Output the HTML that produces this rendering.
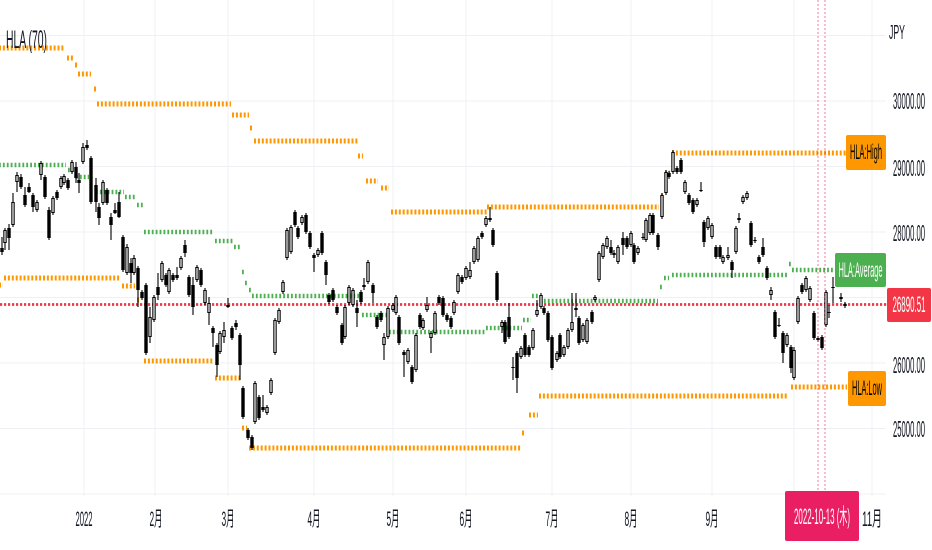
<!DOCTYPE html>
<html><head><meta charset="utf-8"><style>
html,body{margin:0;padding:0;background:#fff;width:932px;height:550px;overflow:hidden}
svg{display:block}
text{font-family:"Liberation Sans","Noto Sans CJK JP",sans-serif}
</style></head><body>
<svg width="932" height="550" viewBox="0 0 932 550" xmlns="http://www.w3.org/2000/svg">
<rect width="932" height="550" fill="#fff"/>
<g stroke="#eff0f3" stroke-width="1">
<path d="M0 35.5H886M0 101H886M0 166.5H886M0 232H886M0 297.5H886M0 363H886M0 428.5H886M0 494H886"/>
<path d="M84 0V496M155 0V496M228 0V496M314 0V496M393 0V496M466 0V496M552 0V496M631 0V496M712 0V496M794 0V496M872 0V496"/>
</g>
<g fill="none" stroke="#ff9800" stroke-width="5" stroke-dasharray="2 1.9">
<path d="M-1 48H65M67 58H73M75 65H77M78 74H91M94 89H96M97 104H231M232 115H249M250 128H252M254 141H358M358 156H363M366 181H378M381 188H389M391 212H487M487 207H659M661 196H663M665 173H670M672 153H846"/>
<path d="M-1 285H3M4 278H121M122 286H135M137 300H141M144 361H214M215 378H241M242 428H247M249 448H521M522 433H526M529 415H538M539 396H788M791 387H847"/>
</g>
<path fill="none" stroke="#4caf50" stroke-width="4.5" stroke-dasharray="1.8 2.1" d="M-1 165H66M68 170H73M76 177H89M96 192H124M125 197H136M137 205H144M144 232H214M215 241H233M234 247H241M242 272H244M245 283H247M249 290H251M252 296H361M362 315H388M389 332H486M486 328H522M523 320H531M532 296H538M540 301H658M660 287H662M664 278H669M672 275H788M789 264H791M792 270H834"/>
<path fill="none" stroke="#f23645" stroke-width="2.7" stroke-dasharray="2.2 1.8" d="M0 304.5H887"/>
<g fill="none" stroke="#000">
<path stroke-width="1.1" d="M2 237V255M5 228V250M9 224V250M13 193V227M17 172V192M21 174V189M25 187V207M29 183V193M33 193V212M37 200V212M41 161V180M45 175V199M49 207V240M53 196V215M57 190V200M61 176V189M64 174V185M68 178V190M72 160V174M76 162V183M79 173V193M83 143V164M87 140V150M91 156V204M96 178V212M99 203V225M103 180V205M107 188V205M111 213V240M115 203V214M119 192V218M123 235V272M127 244V275M131 258V283M134 255V275M138 266V307M142 290V300M146 283V355M150 307V343M154 295V322M158 273V300M162 261V282M166 273V287M169 268V294M173 273V282M177 267V280M181 256V270M185 240V257M189 275V297M193 277V315M197 265V282M201 268V287M205 288V305M209 297V325M213 326V347M217 343V377M220 331V354M224 322V343M228 298V308M232 326V340M236 320V330M240 333V380M243 386V419M248 428V440M252 435V450M255 381V424M259 395V420M263 395V412M267 405V415M271 378V395M275 318V355M279 308V324M283 280V294M287 228V260M291 225V254M295 210V227M298 226V239M302 215V225M306 213V234M310 231V249M314 253V272M318 248V257M322 231V255M326 260V285M329 293V304M333 288V302M337 305V315M342 323V345M345 305V339M349 285V305M353 288V307M357 300V327M361 290V304M364 278V290M368 260V284M373 283V303M377 315V329M381 311V322M384 333V360M388 306V339M393 303V312M396 295V315M399 315V345M404 350V377M408 348V364M412 365V384M416 333V372M420 313V329M423 318V330M427 297V312M431 331V353M435 311V335M439 295V305M443 296V317M447 313V322M451 316V329M454 300V315M458 273V294M462 275V284M466 266V280M470 262V279M474 246V264M478 236V262M482 231V239M486 216V227M490 207V222M493 228V247M497 271V302M502 320V333M505 320V344M509 303V339M513 357V380M517 351V393M521 346V359M525 333V357M529 345V357M533 328V350M537 300V317M541 293V309M544 306V315M548 311V342M552 335V370M557 351V362M560 333V359M564 345V357M568 328V349M572 293V332M576 293V317M579 316V345M583 323V342M587 318V344M592 310V324M595 295V302M599 251V282M603 243V259M607 236V249M611 240V255M614 250V258M618 245V264M623 232V255M627 236V249M631 231V247M634 243V264M638 246V255M643 233V240M646 218V242M650 213V235M653 213V235M658 233V250M662 193V219M666 170V195M669 171V179M673 150V174M677 166V174M681 158V174M685 180V194M689 193V205M693 198V214M697 198V207M701 182V192M704 220V247M708 216V230M712 223V239M716 245V259M720 245V259M723 255V264M728 247V260M732 260V278M736 226V254M739 213V223M743 195V204M747 191V200M751 221V247M755 237V243M759 255V264M763 238V257M767 266V280M771 287V300M775 310V339M779 318V327M783 331V363M787 333V347M791 345V373M794 347V380M798 296V324M802 283V294M806 276V292M810 286V302M814 311V340M818 336V342M822 335V350M826 290V327M829 305V318M833 277V303M841 293V302M845 302V308"/>
<path stroke-width="3.4" d="M2 248V252M5 230V243M9 228V238M13 202V225M17 175V182M21 177V187M25 195V205M29 187V192M33 195V207M37 202V210M41 163V175M45 177V197M49 210V238M53 198V213M57 192V198M61 178V187M64 176V183M68 180V188M72 162V172M76 167V178M79 180V183M83 147V162M87 145V148M91 158V202M96 185V202M99 207V218M103 182V203M107 190V203M111 217V225M115 210V213M119 202V217M123 237V270M127 247V273M131 263V273M134 258V273M138 268V290M142 292V298M146 285V353M150 317V337M154 297V320M158 287V295M162 263V280M166 275V285M169 270V292M173 275V280M177 275V278M181 258V268M185 245V253M189 277V295M193 285V307M197 267V280M201 270V285M205 290V303M209 303V313M213 328V333M217 345V365M220 333V352M224 330V337M228 305V307M232 328V338M236 323V327M240 335V365M243 388V417M248 430V438M252 437V448M255 383V422M259 397V418M263 407V410M267 407V413M271 380V393M275 320V353M279 310V322M283 282V292M287 230V258M291 227V252M295 212V225M298 228V237M302 217V223M306 215V232M310 233V247M314 255V258M318 250V255M322 233V253M326 262V275M329 295V302M333 290V300M337 307V313M342 325V343M345 307V337M349 287V303M353 290V305M357 308V313M361 292V302M364 285V287M368 262V282M373 285V293M377 317V327M381 313V320M384 337V345M388 308V337M393 305V310M396 297V313M399 317V343M404 352V355M408 350V362M412 367V382M416 335V370M420 315V327M423 320V328M427 305V310M431 333V338M435 313V333M439 297V303M443 298V315M447 315V320M451 318V327M454 302V313M458 275V292M462 277V282M466 268V278M470 270V277M474 248V262M478 238V260M482 233V237M486 218V225M490 218V220M493 230V245M497 273V300M502 322V327M505 322V342M509 317V337M513 367V368M517 353V378M521 348V357M525 335V355M529 347V355M533 330V348M537 310V315M541 295V307M544 308V313M548 313V340M552 337V368M557 353V360M560 335V357M564 347V355M568 330V347M572 322V330M576 308V310M579 318V343M583 325V340M587 320V342M592 312V322M595 297V300M599 253V280M603 245V257M607 238V247M611 247V253M614 253V255M618 247V262M623 238V245M627 238V247M631 233V245M634 245V262M638 248V253M643 237V238M646 220V240M650 215V233M653 215V233M658 235V247M662 195V217M666 172V193M669 173V177M673 152V172M677 168V172M681 160V172M685 182V192M689 195V203M693 200V212M697 200V205M701 190V191M704 222V242M708 218V228M712 225V237M716 247V257M720 247V257M723 257V262M728 255V258M732 262V270M736 228V252M739 218V220M743 197V202M747 193V198M751 223V245M755 240V241M759 257V262M763 247V255M767 268V278M771 290V295M775 312V337M779 325V326M783 333V353M787 335V345M791 347V368M794 350V378M798 298V322M802 285V292M806 278V290M810 288V300M814 313V338M818 338V340M822 337V348M826 292V325M829 312V313M833 287V288M841 297V299M845 304V306"/>
</g>
<path fill="none" stroke="#fff" stroke-width="1.2" d="M5 231V242M13 203V224M17 176V181M37 203V209M41 164V174M53 199V212M61 179V186M64 177V182M72 163V171M83 148V161M103 183V202M127 248V272M134 259V272M150 318V336M154 298V319M162 264V279M169 271V291M181 259V267M197 268V279M205 291V302M209 304V312M220 334V351M224 331V336M255 384V421M267 408V412M271 381V392M275 321V352M279 311V321M283 283V291M287 231V257M291 228V251M302 218V222M318 251V254M345 308V336M349 288V302M353 291V304M368 263V281M384 338V344M388 309V336M393 306V309M396 298V312M408 351V361M416 336V369M423 321V327M427 306V309M431 334V337M435 314V332M454 303V312M458 276V291M466 269V277M470 271V276M474 249V261M478 239V259M486 219V224M502 323V326M521 349V356M533 331V347M537 311V314M541 296V306M557 354V359M564 348V354M568 331V346M572 323V329M583 326V339M587 321V341M595 298V299M599 254V279M603 246V256M607 239V246M618 248V261M631 234V244M638 249V252M646 221V239M650 216V232M662 196V216M666 173V192M673 153V171M685 183V191M697 201V204M708 219V227M712 226V236M723 258V261M728 256V257M736 229V251M743 198V201M747 194V197M771 291V294M787 336V344M794 351V377M798 299V321M806 279V289M810 289V299M826 293V324"/>
<g fill="none" stroke="#e91e63" stroke-opacity="0.6" stroke-width="1" stroke-dasharray="2 2">
<path d="M818 0V491M825 0V491"/>
</g>
<text x="6" y="48" font-size="25" fill="#131722" textLength="41" lengthAdjust="spacingAndGlyphs">HLA (70)</text>
<g font-size="23" fill="#131722">
<text x="889" y="39" font-size="20" textLength="16" lengthAdjust="spacingAndGlyphs">JPY</text>
<text x="893" y="109" textLength="32" lengthAdjust="spacingAndGlyphs">30000.00</text>
<text x="893" y="176" textLength="32" lengthAdjust="spacingAndGlyphs">29000.00</text>
<text x="893" y="241" textLength="32" lengthAdjust="spacingAndGlyphs">28000.00</text>
<text x="893" y="373" textLength="32" lengthAdjust="spacingAndGlyphs">26000.00</text>
<text x="893" y="437" textLength="32" lengthAdjust="spacingAndGlyphs">25000.00</text>
</g>
<g font-size="21" fill="#131722" text-anchor="middle">
<text x="84" y="526" textLength="17" lengthAdjust="spacingAndGlyphs">2022</text>
<text x="156" y="526" textLength="13" lengthAdjust="spacingAndGlyphs">2月</text>
<text x="228" y="526" textLength="13" lengthAdjust="spacingAndGlyphs">3月</text>
<text x="314" y="526" textLength="13" lengthAdjust="spacingAndGlyphs">4月</text>
<text x="393" y="526" textLength="13" lengthAdjust="spacingAndGlyphs">5月</text>
<text x="466" y="526" textLength="13" lengthAdjust="spacingAndGlyphs">6月</text>
<text x="552" y="526" textLength="13" lengthAdjust="spacingAndGlyphs">7月</text>
<text x="631" y="526" textLength="13" lengthAdjust="spacingAndGlyphs">8月</text>
<text x="712" y="526" textLength="13" lengthAdjust="spacingAndGlyphs">9月</text>
<text x="872" y="526" textLength="20" lengthAdjust="spacingAndGlyphs">11月</text>
</g>
<rect x="846" y="135" width="40" height="35" rx="2" fill="#ff9800"/>
<text x="866" y="159" font-size="21" fill="#000" text-anchor="middle" textLength="32" lengthAdjust="spacingAndGlyphs">HLA:High</text>
<rect x="835" y="253" width="51" height="34" rx="2" fill="#4caf50"/>
<text x="860.5" y="277" font-size="21" fill="#fff" text-anchor="middle" textLength="44" lengthAdjust="spacingAndGlyphs">HLA:Average</text>
<rect x="887" y="288" width="44" height="34" rx="2" fill="#f23645"/>
<text x="909" y="312" font-size="22" fill="#fff" text-anchor="middle" textLength="33" lengthAdjust="spacingAndGlyphs">26890.51</text>
<rect x="848" y="371" width="38" height="35" rx="2" fill="#ff9800"/>
<text x="867" y="395" font-size="21" fill="#000" text-anchor="middle" textLength="30" lengthAdjust="spacingAndGlyphs">HLA:Low</text>
<rect x="785" y="491" width="74" height="50" rx="2" fill="#e91e63"/>
<text x="822" y="524" font-size="22" fill="#fff" text-anchor="middle" textLength="56" lengthAdjust="spacingAndGlyphs">2022-10-13 (木)</text>
</svg>
</body></html>
